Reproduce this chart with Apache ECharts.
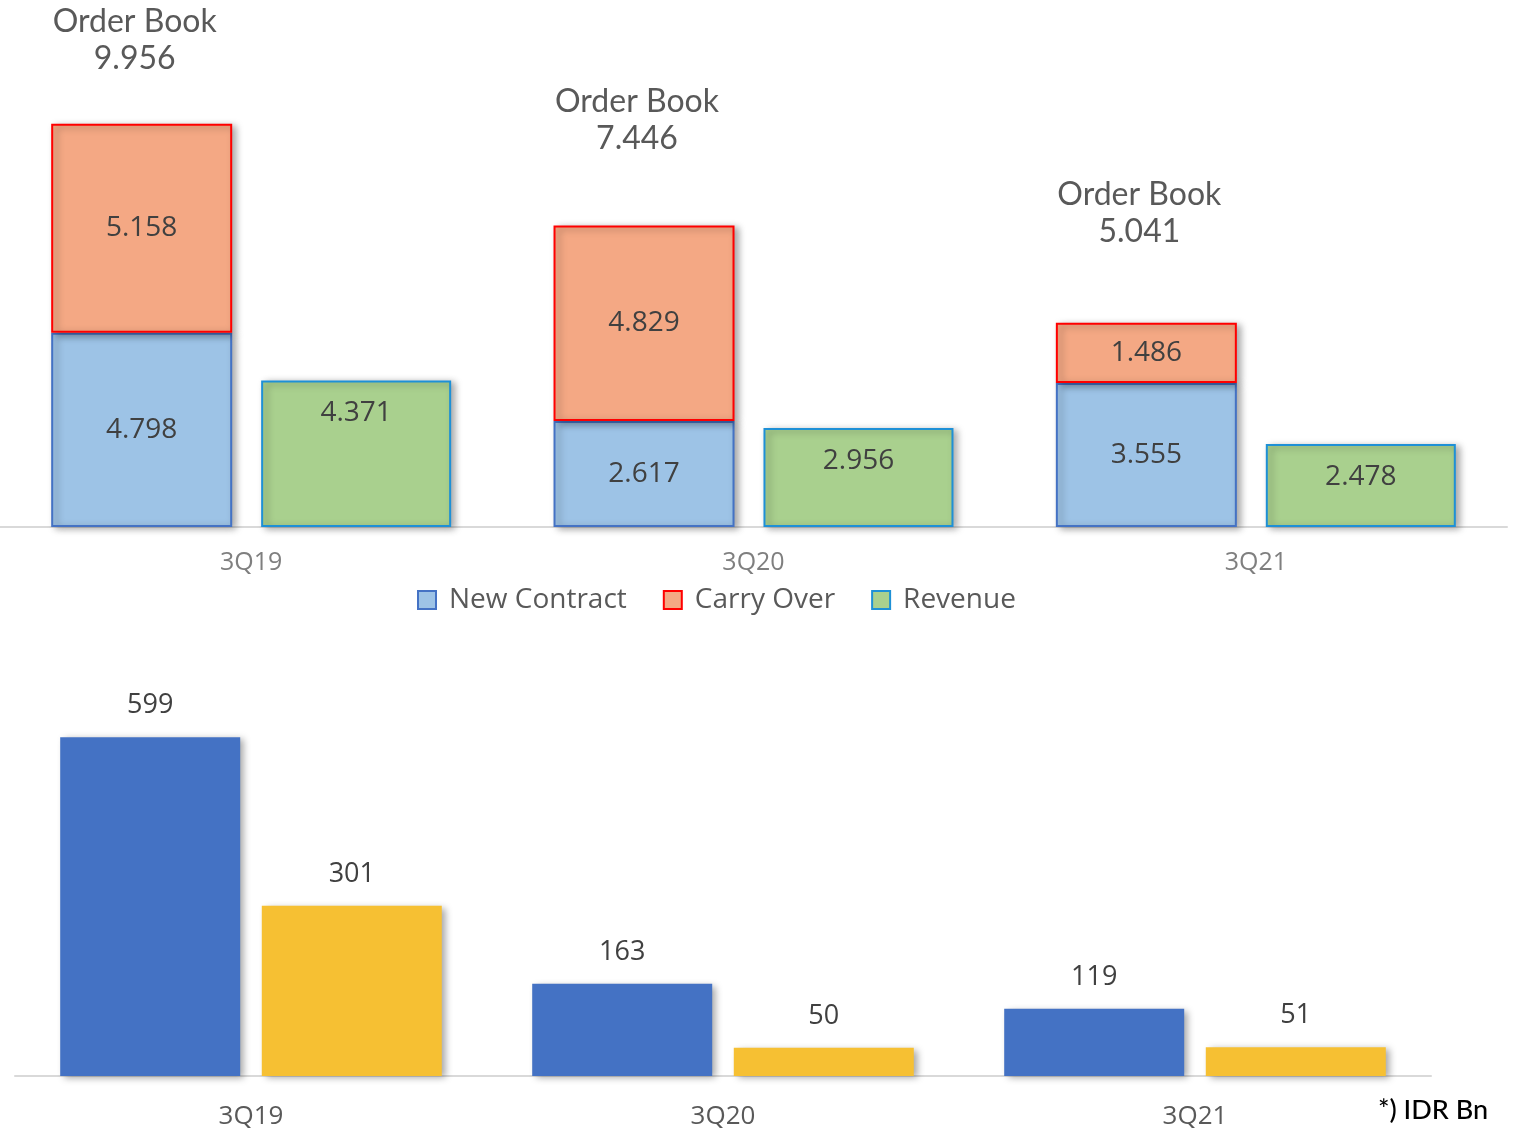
<!DOCTYPE html>
<html>
<head>
<meta charset="utf-8">
<title>Order Book</title>
<script src="https://cdn.jsdelivr.net/npm/echarts@6/dist/echarts.min.js"></script>
<style>
  html, body { margin: 0; padding: 0; background: #fff; }
  #main { width: 1534px; height: 1130px; }
</style>
</head>
<body>
<div id="main"></div>
<script>
// 数据
var quarters = ['3Q19', '3Q20', '3Q21'];
var newContract = [4.798, 2.617, 3.555];
var carryOver = [5.158, 4.829, 1.486];
var revenue = [4.371, 2.956, 2.478];
var profitBlue = [599, 163, 119];
var profitYellow = [301, 50, 51];

var totalLabelGap = [47, 68, 73];  // Order Book 文字离柱顶的距离

var myChart = echarts.init(document.getElementById('main'));

var barShadow = {
  shadowColor: 'rgba(0,0,0,0.35)',
  shadowBlur: 7,
  shadowOffsetX: 4,
  shadowOffsetY: 2
};

function fmt(v) {
  return v.toFixed(3);
}

// Order Book 合计
var orderBook = [];
for (var i = 0; i < quarters.length; i++) {
  orderBook.push({
    value: 0,
    total: newContract[i] + carryOver[i],
    label: { distance: totalLabelGap[i] }
  });
}

var inLabel = {
  show: true,
  position: 'inside',
  color: '#404040',
  fontFamily: 'Open Sans',
  fontSize: 28,
  formatter: function (p) { return fmt(p.value); }
};

var option = {
  animation: false,
  backgroundColor: '#fff',
  legend: {
    data: ['New Contract', 'Carry Over', 'Revenue'],
    left: 412,
    top: 581,
    itemWidth: 18,
    itemHeight: 18,
    itemGap: 36,
    icon: 'rect',
    textStyle: { fontFamily: 'Open Sans', fontSize: 28, color: '#595959', padding: [0, 0, 0, 8] }
  },
  grid: [
    { left: -2, width: 1509, top: 41, height: 486 },
    { left: 15, width: 1416, top: 680, height: 396 }
  ],
  xAxis: [
    {
      type: 'category', gridIndex: 0, data: quarters,
      axisLine: { lineStyle: { color: '#d9d9d9', width: 2 } },
      axisTick: { show: false },
      axisLabel: { color: '#7f7f7f', fontFamily: 'Open Sans', fontSize: 25, margin: 23 }
    },
    {
      type: 'category', gridIndex: 1, data: quarters,
      axisLine: { lineStyle: { color: '#d9d9d9', width: 2 } },
      axisTick: { show: false },
      axisLabel: { color: '#595959', fontFamily: 'Open Sans', fontSize: 26, margin: 28 }
    }
  ],
  yAxis: [
    { type: 'value', gridIndex: 0, min: 0, max: 12, show: false },
    { type: 'value', gridIndex: 0, min: 0, max: 14.5, show: false },
    { type: 'value', gridIndex: 1, min: 0, max: 700, show: false }
  ],
  series: [
    {
      name: 'New Contract', type: 'bar', stack: 'ob', xAxisIndex: 0, yAxisIndex: 0,
      barWidth: 181, barGap: '16%',
      data: newContract,
      itemStyle: Object.assign({ color: '#9dc3e6', borderColor: '#4472c4', borderWidth: 2 }, barShadow),
      label: inLabel
    },
    {
      name: 'Carry Over', type: 'bar', stack: 'ob', xAxisIndex: 0, yAxisIndex: 0,
      barWidth: 181,
      data: carryOver,
      itemStyle: Object.assign({ color: '#f4a884', borderColor: '#ff0000', borderWidth: 2 }, barShadow),
      label: inLabel
    },
    {
      // 合计文字 (Order Book)
      name: 'Order Book', type: 'bar', stack: 'ob', xAxisIndex: 0, yAxisIndex: 0,
      barWidth: 181,
      data: orderBook,
      itemStyle: { color: 'rgba(0,0,0,0)', borderWidth: 0 },
      label: {
        show: true,
        position: 'top',
        offset: [-7, 0],
        color: '#595959',
        fontFamily: 'Lato',
        fontSize: 32,
        lineHeight: 37,
        formatter: function (p) { return 'Order Book\n' + fmt(p.data.total); }
      }
    },
    {
      name: 'Revenue', type: 'bar', stack: 'rev', xAxisIndex: 0, yAxisIndex: 1,
      barWidth: 190,
      data: revenue,
      itemStyle: Object.assign({ color: '#a9d08e', borderColor: '#1e90d6', borderWidth: 2 }, barShadow),
      label: Object.assign({}, inLabel, { position: 'insideTop', distance: 19 })
    },
    {
      name: 'Gross Profit', type: 'bar', xAxisIndex: 1, yAxisIndex: 2,
      barWidth: 180, barGap: '12%',
      data: profitBlue,
      itemStyle: Object.assign({ color: '#4472c4' }, barShadow),
      label: { show: true, position: 'top', distance: 18, color: '#404040', fontFamily: 'Open Sans', fontSize: 27 }
    },
    {
      name: 'Net Profit', type: 'bar', xAxisIndex: 1, yAxisIndex: 2,
      barWidth: 180,
      data: profitYellow,
      itemStyle: Object.assign({ color: '#f6c033' }, barShadow),
      label: { show: true, position: 'top', distance: 18, color: '#404040', fontFamily: 'Open Sans', fontSize: 27 }
    }
  ],
  graphic: [
    {
      type: 'text', right: 46, top: 1097,
      style: { text: '*) IDR Bn', fill: '#000', font: '500 27px Lato' }
    }
  ]
};

myChart.setOption(option);
</script>
</body>
</html>
